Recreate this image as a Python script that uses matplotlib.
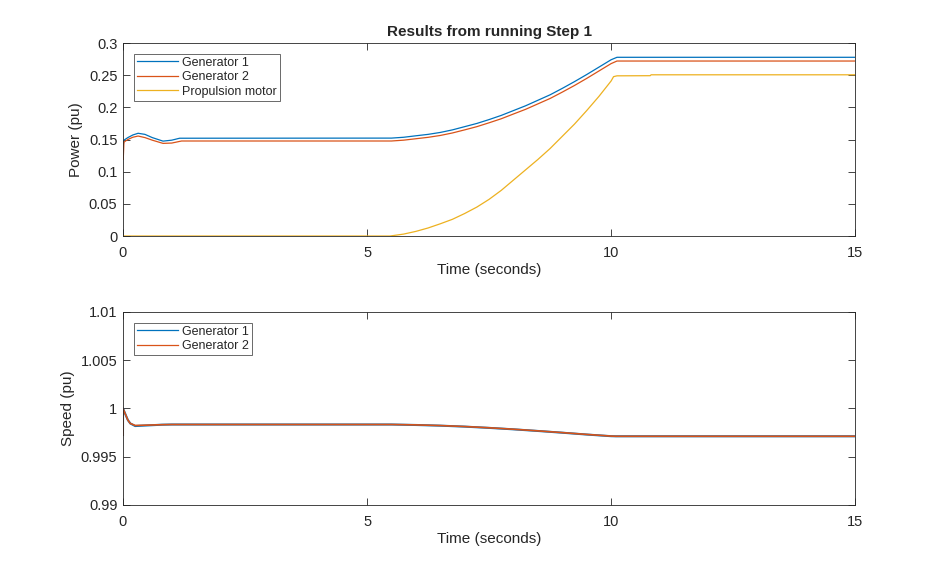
import matplotlib
matplotlib.use('Agg')
import matplotlib.pyplot as plt
from matplotlib.ticker import FuncFormatter

# power results (pu)
gen1_t = [0, 0.02, 0.1, 0.2, 0.31, 0.45, 0.6, 0.82, 1.0, 1.16, 5.5, 5.75, 6.0,
          6.25, 6.5, 6.75, 7.0, 7.25, 7.5, 7.75, 8.0, 8.25, 8.5, 8.75, 9.0,
          9.25, 9.5, 9.75, 10.0, 10.12, 15]
gen1_p = [0.138, 0.149, 0.153, 0.157, 0.1597, 0.158, 0.153, 0.1475, 0.149,
          0.152, 0.1522, 0.1535, 0.1558, 0.158, 0.161, 0.165, 0.170, 0.175,
          0.181, 0.1875, 0.195, 0.2025, 0.211, 0.2195, 0.2295, 0.240, 0.251,
          0.2625, 0.274, 0.2778, 0.2778]
gen2_t = [0, 0.005, 0.02, 0.1, 0.2, 0.31, 0.45, 0.6, 0.82, 1.0, 1.2, 5.5, 5.75,
          6.0, 6.25, 6.5, 6.75, 7.0, 7.25, 7.5, 7.75, 8.0, 8.25, 8.5, 8.75,
          9.0, 9.25, 9.5, 9.75, 10.0, 10.12, 15]
gen2_p = [0.147, 0.119, 0.146, 0.150, 0.1535, 0.1554, 0.153, 0.149, 0.144,
          0.1445, 0.1477, 0.1477, 0.149, 0.1512, 0.1534, 0.1563, 0.1602,
          0.165, 0.170, 0.176, 0.1823, 0.1897, 0.197, 0.2054, 0.2138, 0.2237,
          0.234, 0.245, 0.2565, 0.268, 0.272, 0.272]
prop_t = [0, 5.47, 5.75, 6.0, 6.25, 6.5, 6.75, 7.0, 7.25, 7.5, 7.75, 8.0,
          8.25, 8.5, 8.75, 9.0, 9.25, 9.5, 9.75, 10.0, 10.05, 10.12, 10.8,
          10.82, 15]
prop_p = [0, 0, 0.003, 0.0072, 0.0125, 0.019, 0.026, 0.035, 0.045, 0.057,
          0.071, 0.087, 0.103, 0.119, 0.136, 0.155, 0.174, 0.195, 0.217,
          0.241, 0.2477, 0.249, 0.2492, 0.2506, 0.2506]

# speed results (pu)
spd_t = [0, 0.001, 0.05, 0.1, 0.15, 0.25, 0.4, 0.8, 1.0, 5.5, 6.0, 6.5, 7.0,
         7.5, 8.0, 8.5, 9.0, 9.5, 10.0, 10.1, 15]
spd1 = [0.99725, 1.0, 0.9994, 0.9988, 0.99845, 0.99818, 0.99822, 0.99832,
        0.99834, 0.99834, 0.99829, 0.99822, 0.99812, 0.99799, 0.99784,
        0.99767, 0.99749, 0.99730, 0.99713, 0.99712, 0.99712]
spd2 = [0.99725, 1.0, 0.9994, 0.9988, 0.99845, 0.99824, 0.99826, 0.99832,
        0.99834, 0.99834, 0.99830, 0.99823, 0.99813, 0.99800, 0.99785,
        0.99768, 0.99750, 0.99731, 0.99714, 0.99712, 0.99712]

power_yticks = [0, 0.05, 0.1, 0.15, 0.2, 0.25, 0.3]
speed_yticks = [0.99, 0.995, 1, 1.005, 1.01]
xticks = [0, 5, 10, 15]

c1 = '#0072BD'
c2 = '#D95319'
c3 = '#EDB120'
axc = '#262626'

plt.rcParams['font.family'] = ['Liberation Sans', 'DejaVu Sans']
plt.rcParams['font.size'] = 10
plt.rcParams['axes.edgecolor'] = axc
plt.rcParams['axes.linewidth'] = 0.6
plt.rcParams['xtick.color'] = axc
plt.rcParams['ytick.color'] = axc

fig = plt.figure(figsize=(9.46, 5.69), dpi=100)
ax1 = fig.add_axes([0.13, 0.5852, 0.774, 0.3392])
ax2 = fig.add_axes([0.13, 0.1125, 0.774, 0.3392])

fmt = FuncFormatter(lambda v, p: '%g' % v)


def style(ax, yticks):
    ax.set_xlim(0, 15)
    ax.set_ylim(yticks[0], yticks[-1])
    ax.set_xticks(xticks)
    ax.set_yticks(yticks)
    ax.xaxis.set_major_formatter(fmt)
    ax.yaxis.set_major_formatter(fmt)
    ax.tick_params(direction='in', length=5, width=0.6, top=True, right=True,
                   labelsize=10.5, pad=4)
    ax.tick_params(axis='x', pad=7.5)
    ax.set_xlabel('Time (seconds)', fontsize=11, color=axc, labelpad=2)


ax1.plot(gen1_t, gen1_p, color=c1, lw=0.9, label='Generator 1')
ax1.plot(gen2_t, gen2_p, color=c2, lw=0.9, label='Generator 2')
ax1.plot(prop_t, prop_p, color=c3, lw=0.9, label='Propulsion motor')
style(ax1, power_yticks)
ax1.set_ylabel('Power (pu)', fontsize=11, color=axc, labelpad=4)
ax1.set_title('Results from running Step 1', fontsize=11, fontweight='bold',
              color=axc, pad=5)

ax2.plot(spd_t, spd1, color=c1, lw=1.5, label='Generator 1')
ax2.plot(spd_t, spd2, color=c2, lw=1.2, label='Generator 2')
style(ax2, speed_yticks)
ax2.set_ylabel('Speed (pu)', fontsize=11, color=axc, labelpad=4)

for ax in (ax1, ax2):
    leg = ax.legend(loc='upper left', fontsize=9, frameon=True, fancybox=False,
                    handlelength=3.3, handletextpad=0.35, labelspacing=0.2,
                    borderpad=0.25, borderaxespad=0.85)
    leg.get_frame().set_edgecolor(axc)
    leg.get_frame().set_linewidth(0.6)
    for h in leg.get_lines():
        h.set_linewidth(0.9)
    for t in leg.get_texts():
        t.set_color(axc)

fig.savefig('out.png', dpi=100)
